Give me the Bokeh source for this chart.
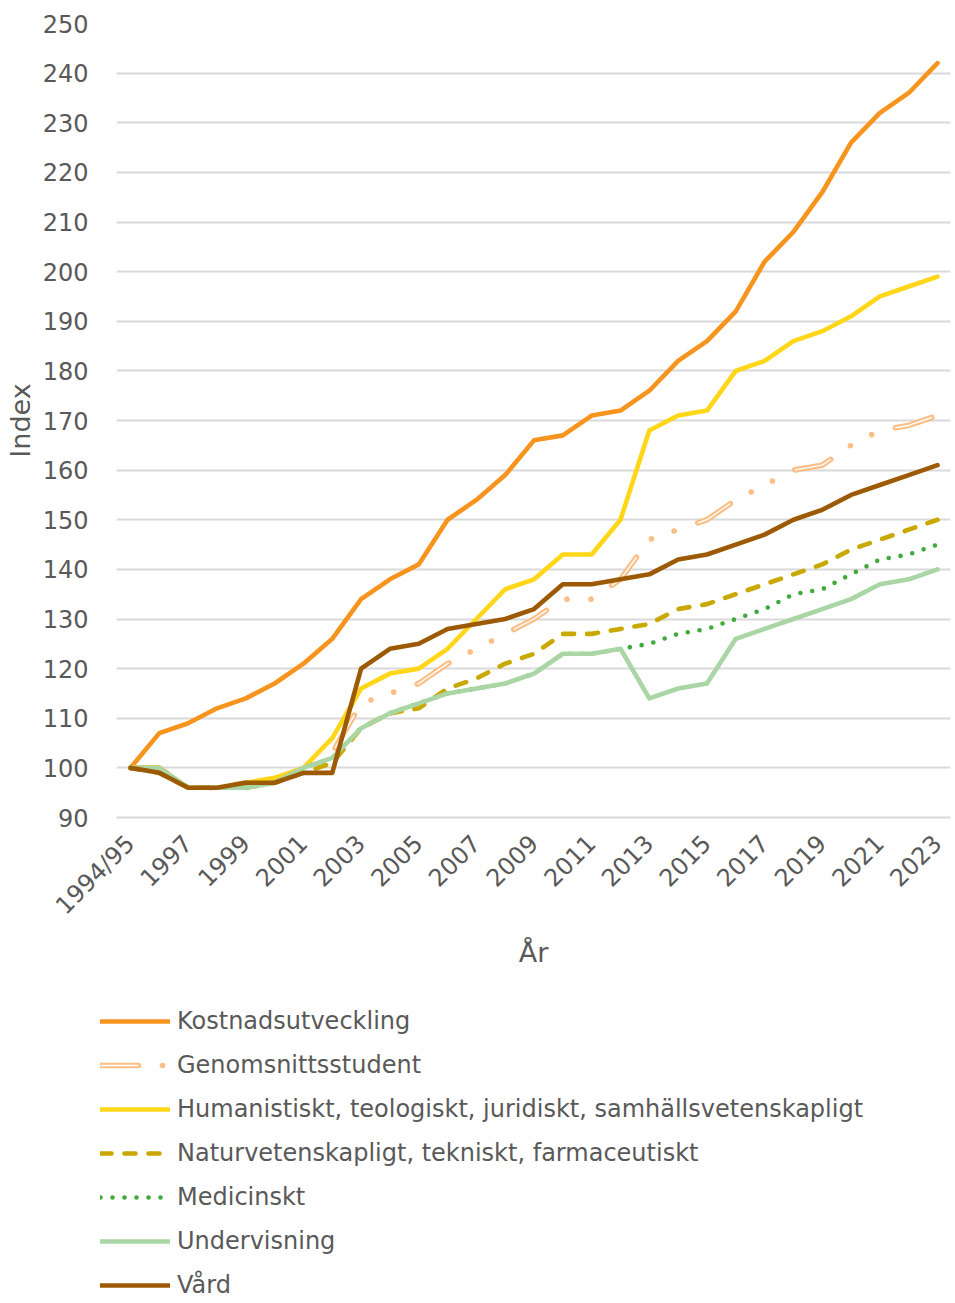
from bokeh.plotting import figure
from bokeh.models import Range1d, FixedTicker, Legend, LegendItem
from bokeh.layouts import column
from bokeh.embed import file_html
from bokeh.resources import INLINE
import math

# ---------------- data ----------------
years = ["1994/95", "1996", "1997", "1998", "1999", "2000", "2001", "2002", "2003",
         "2004", "2005", "2006", "2007", "2008", "2009", "2010", "2011", "2012",
         "2013", "2014", "2015", "2016", "2017", "2018", "2019", "2020", "2021",
         "2022", "2023"]

kostnadsutveckling = [100, 107, 109, 112, 114, 117, 121, 126, 134, 138, 141, 150, 154, 159,
                      166, 167, 171, 172, 176, 182, 186, 192, 202, 208, 216, 226, 232, 236, 242]
genomsnittsstudent = [100, 100, 96, 96, 97, 97, 99, 103, 113, 115, 117, 121, 124, 127,
                      130, 134, 134, 138, 146, 148, 150, 154, 157, 160, 161, 165, 168, 169, 171]
humanistiskt = [100, 100, 96, 96, 97, 98, 100, 106, 116, 119, 120, 124, 130, 136,
                138, 143, 143, 150, 168, 171, 172, 180, 182, 186, 188, 191, 195, 197, 199]
naturvetenskapligt = [100, 99, 96, 96, 96, 97, 99, 101, 108, 111, 112, 116, 118, 121,
                      123, 127, 127, 128, 129, 132, 133, 135, 137, 139, 141, 144, 146, 148, 150]
medicinskt = [100, 100, 96, 96, 96, 97, 100, 102, 108, 111, 113, 115, 116, 117,
              119, 123, 123, 124, 125, 127, 128, 130, 132, 135, 136, 139, 142, 143, 145]
undervisning = [100, 100, 96, 96, 96, 97, 100, 102, 108, 111, 113, 115, 116, 117,
                119, 123, 123, 124, 114, 116, 117, 126, 128, 130, 132, 134, 137, 138, 140]
vard = [100, 99, 96, 96, 97, 97, 99, 99, 120, 124, 125, 128, 129, 130, 132, 137,
        137, 138, 139, 142, 143, 145, 147, 150, 152, 155, 157, 159, 161]

y_ticks = [90, 100, 110, 120, 130, 140, 150, 160, 170, 180, 190, 200, 210, 220, 230, 240, 250]
x_title = "År"
y_title = "Index"

names = ["Kostnadsutveckling", "Genomsnittsstudent",
         "Humanistiskt, teologiskt, juridiskt, samhällsvetenskapligt",
         "Naturvetenskapligt, tekniskt, farmaceutiskt", "Medicinskt", "Undervisning", "Vård"]

# ---------------- styling ----------------
FONT = "DejaVu Sans"
TXT = "#595959"
GRID = "#d9d9d9"
W = 4.6

x = list(range(len(years)))


def add_series(fig):
    """Draw all series on fig; return list of renderer groups (one per legend entry)."""
    r_k = fig.line(x, kostnadsutveckling, line_color="#F7941D", line_width=W,
                   line_join="round", line_cap="round")
    r_g1 = fig.line(x, genomsnittsstudent, line_color="#FBBE85", line_width=5.6,
                    line_join="round", line_cap="round", line_dash="38 24 0 24 0 25")
    r_g2 = fig.line(x, genomsnittsstudent, line_color="white", line_width=1.4,
                    line_join="round", line_cap="butt", line_dash="38 73")
    r_h = fig.line(x, humanistiskt, line_color="#FFD618", line_width=W,
                   line_join="round", line_cap="round")
    r_n = fig.line(x, naturvetenskapligt, line_color="#C9A800", line_width=W,
                   line_join="round", line_cap="round", line_dash="11 13")
    r_m = fig.line(x, medicinskt, line_color="#3DAA3A", line_width=W,
                   line_join="round", line_cap="round", line_dash="0 12")
    r_u = fig.line(x, undervisning, line_color="#A9D6A4", line_width=W,
                   line_join="round", line_cap="round")
    r_v = fig.line(x, vard, line_color="#9C5A05", line_width=W,
                   line_join="round", line_cap="round")
    return [[r_k], [r_g1, r_g2], [r_h], [r_n], [r_m], [r_u], [r_v]]


# ---------------- main chart ----------------
p = figure(frame_width=834, frame_height=794, min_border_left=116, min_border_right=5,
           min_border_top=23, min_border_bottom=168,
           x_range=Range1d(-0.486, 28.45), y_range=Range1d(90, 250),
           output_backend="svg", toolbar_location=None)
p.outline_line_color = None
p.background_fill_color = "white"
p.border_fill_color = "white"

p.xaxis.ticker = FixedTicker(ticks=x[::2])
p.xaxis.major_label_overrides = {i: years[i] for i in x[::2]}
p.xaxis.major_label_orientation = math.pi / 4
p.yaxis.ticker = FixedTicker(ticks=y_ticks)
for ax in (p.xaxis[0], p.yaxis[0]):
    ax.major_tick_line_color = None
    ax.minor_tick_line_color = None
    ax.major_label_text_font = FONT
    ax.major_label_text_font_size = "24px"
    ax.major_label_text_color = TXT
    ax.axis_label_text_font = FONT
    ax.axis_label_text_font_size = "27px"
    ax.axis_label_text_font_style = "normal"
    ax.axis_label_text_color = TXT
p.yaxis.axis_line_color = None
p.xaxis.axis_line_color = GRID
p.xaxis.axis_line_width = 2
p.xaxis.major_label_standoff = 16
p.yaxis.major_label_standoff = 22
p.xaxis.axis_label = x_title
p.yaxis.axis_label = y_title
p.xaxis.axis_label_standoff = 4
p.yaxis.axis_label_standoff = 4

p.xgrid.grid_line_color = None
p.ygrid.grid_line_color = GRID
p.ygrid.grid_line_width = 2

add_series(p)

# ---------------- legend panel (separate figure, series drawn outside its view) ----------------
lf = figure(width=955, height=318, min_border=0, x_range=Range1d(1000, 1001),
            y_range=Range1d(1000, 1001), x_axis_type=None, y_axis_type=None,
            output_backend="svg", toolbar_location=None)
lf.outline_line_color = None
lf.grid.grid_line_color = None
lf.background_fill_color = "white"
lf.border_fill_color = "white"
groups = add_series(lf)

unaligned = True
try:
    lf.frame_align = False
    p.frame_align = False
except Exception:
    unaligned = False

if unaligned:
    loc_x, gw = 100, 70
else:
    loc_x, gw = 0, 54

items = [LegendItem(label=n, renderers=g) for n, g in zip(names, groups)]
legend = Legend(items=items, orientation="vertical", location=(loc_x, 3),
                glyph_width=gw, glyph_height=30, label_height=30, label_standoff=7,
                spacing=14, padding=0, margin=0,
                label_text_font=FONT, label_text_font_size="24px", label_text_color=TXT,
                border_line_color=None, background_fill_alpha=0)
lf.add_layout(legend, "center")

layout = column(p, lf, spacing=0)
open("out.html", "w").write(file_html(layout, INLINE))
